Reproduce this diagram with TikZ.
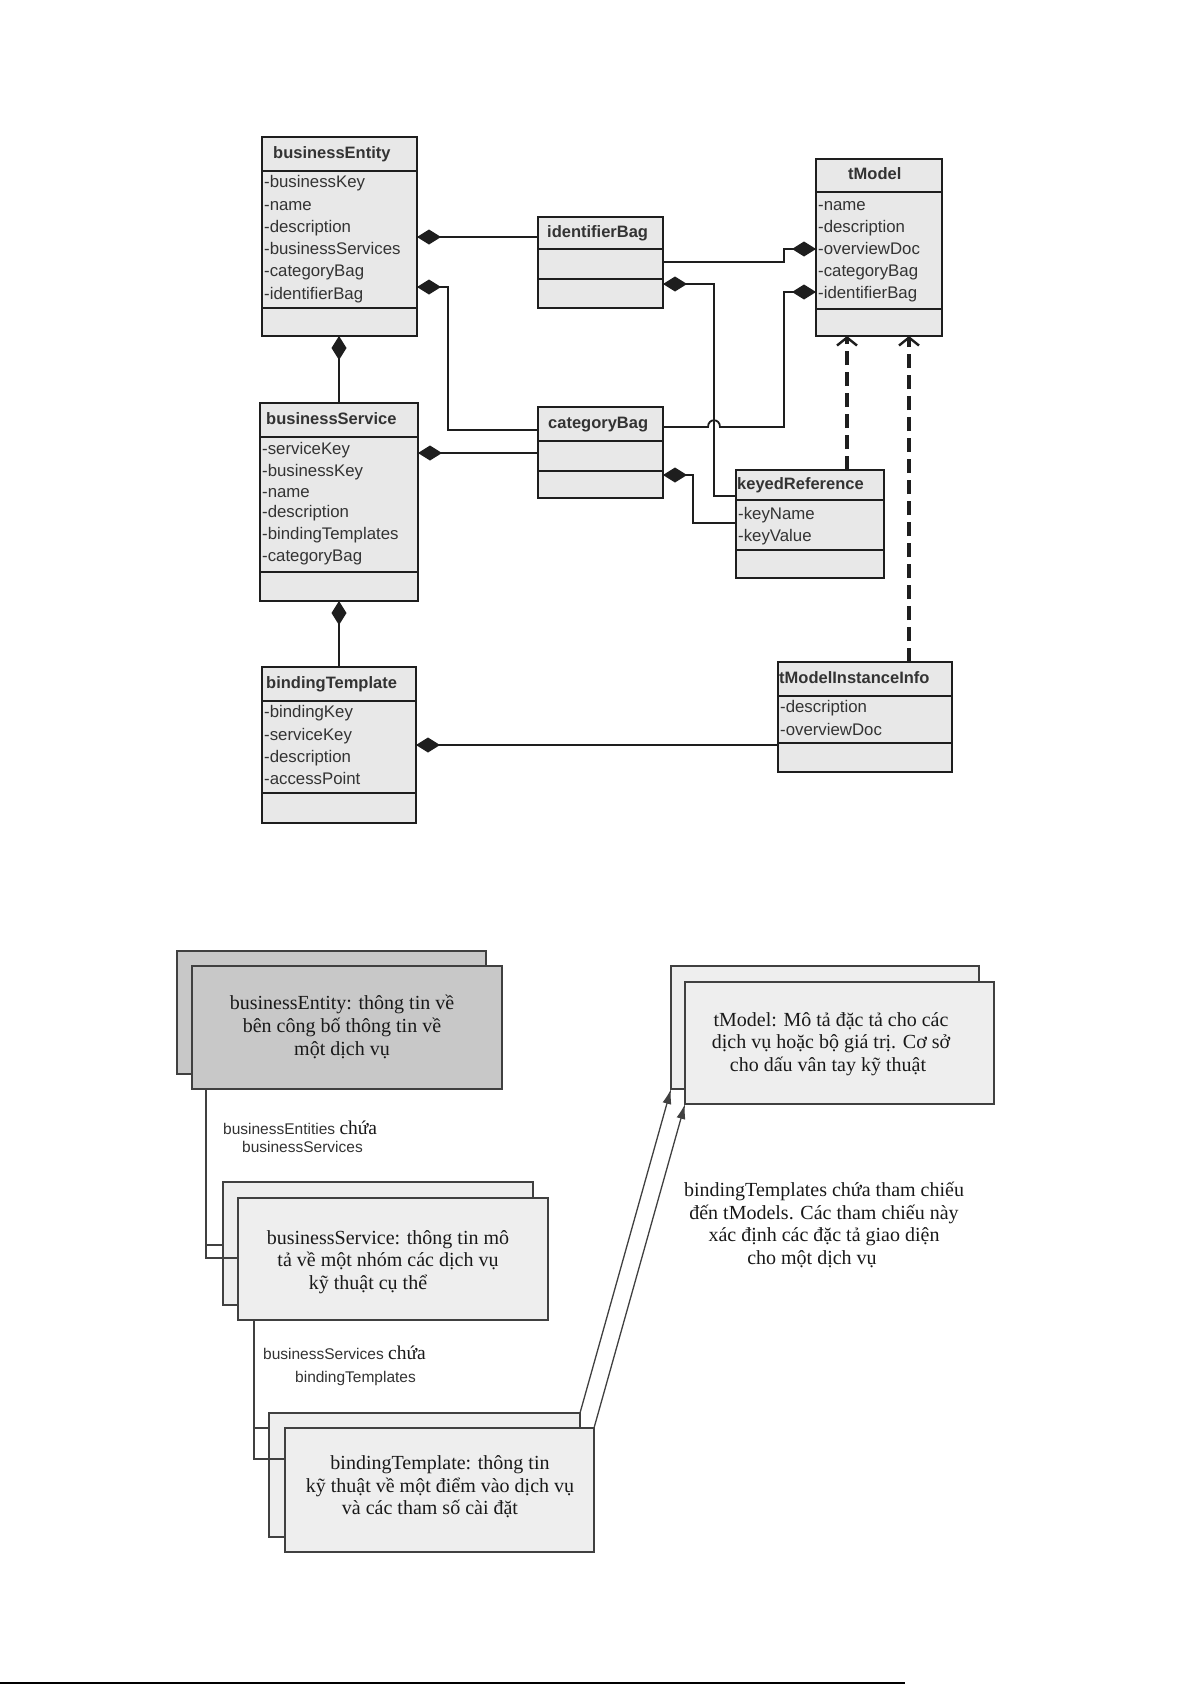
\documentclass[tikz,border=0pt]{standalone}
\usepackage{fontspec}
\setmainfont{Liberation Serif}
\setsansfont{Liberation Sans}
\usetikzlibrary{arrows.meta,fit}
\definecolor{umlfill}{HTML}{E8E8E8}
\definecolor{umldraw}{HTML}{1E1E1E}
\definecolor{umltext}{HTML}{333333}
\definecolor{darkfill}{HTML}{C8C8C8}
\definecolor{lightfill}{HTML}{EEEEEE}
\definecolor{boxline}{HTML}{404040}
\newcommand{\lblserifword}[1]{{\rmfamily\fontsize{19.5}{20}\selectfont\color{black!90}#1}}
\begin{document}
\begin{tikzpicture}[x=1pt,y=-1pt,
  umlbox/.style={draw=umldraw, fill=umlfill, line width=2.8pt, inner sep=0pt, outer sep=0pt},
  umlsep/.style={draw=umldraw, line width=2.8pt},
  umltitle/.style={font=\sffamily\bfseries\fontsize{16.5}{18}\selectfont, text=umltext, anchor=west, inner sep=0pt, text height=12pt, text depth=3.5pt},
  umlattr/.style={font=\sffamily\fontsize{16.8}{19}\selectfont, text=umltext, anchor=west, inner sep=0pt, text height=12pt, text depth=3.5pt},
  link/.style={draw=umldraw, line width=1.8pt},
  comp/.style={link, -{Diamond[length=24pt, width=15pt]}},
  dep/.style={draw=umldraw, line width=3.2pt, dash pattern=on 14pt off 7pt, -{Straight Barb[length=8pt, width=20pt, line width=2.4pt]}},
  cardback/.style={draw=boxline, line width=1.4pt, inner sep=0pt, outer sep=0pt},
  thinlink/.style={draw=boxline, line width=1.3pt},
  arrowlink/.style={thinlink, -{Latex[length=15pt, width=9pt]}},
  cardtxt/.style={font=\fontsize{20}{22.6}\selectfont, align=center, text=black!90, inner sep=0pt},
  lbl/.style={font=\sffamily\fontsize{15.5}{18}\selectfont, text=umltext, anchor=west, inner sep=0pt, text height=11pt, text depth=3pt}
]
\useasboundingbox (0,0) rectangle (1192,1684);
\fill[white] (0,0) rectangle (1192,1684);

% ---------------- UML boxes ----------------
\node[umlbox, fit={(262,137) (417,336)}] (be) {};
\draw[umlsep] (be.west |- 0,171) -- (be.east |- 0,171);
\draw[umlsep] (be.west |- 0,308) -- (be.east |- 0,308);
\node[umltitle] (beT) at (273,154) {businessEntity};
\foreach \t/\y [count=\i] in {-businessKey/183,-name/206,-description/228,-businessServices/250,-categoryBag/272,-identifierBag/295}
  \node[umlattr] (beA\i) at (264,\y) {\t};

\node[umlbox, fit={(538,217) (663,308)}] (ib) {};
\draw[umlsep] (ib.west |- 0,249) -- (ib.east |- 0,249);
\draw[umlsep] (ib.west |- 0,279) -- (ib.east |- 0,279);
\node[umltitle] (ibT) at (547,233) {identifierBag};

\node[umlbox, fit={(816,159) (942,336)}] (tm) {};
\draw[umlsep] (tm.west |- 0,192) -- (tm.east |- 0,192);
\draw[umlsep] (tm.west |- 0,309) -- (tm.east |- 0,309);
\node[umltitle] (tmT) at (848,175.5) {tModel};
\foreach \t/\y [count=\i] in {-name/206,-description/228,-overviewDoc/250,-categoryBag/272,-identifierBag/294}
  \node[umlattr] (tmA\i) at (818,\y) {\t};

\node[umlbox, fit={(260,403) (418,601)}] (bs) {};
\draw[umlsep] (bs.west |- 0,437) -- (bs.east |- 0,437);
\draw[umlsep] (bs.west |- 0,572) -- (bs.east |- 0,572);
\node[umltitle] (bsT) at (266,420) {businessService};
\foreach \t/\y [count=\i] in {-serviceKey/450,-businessKey/472,-name/493,-description/513,-bindingTemplates/535,-categoryBag/557}
  \node[umlattr] (bsA\i) at (262,\y) {\t};

\node[umlbox, fit={(538,407) (663,498)}] (cb) {};
\draw[umlsep] (cb.west |- 0,441) -- (cb.east |- 0,441);
\draw[umlsep] (cb.west |- 0,471) -- (cb.east |- 0,471);
\node[umltitle] (cbT) at (548,424) {categoryBag};

\node[umlbox, fit={(736,470) (884,578)}] (kr) {};
\draw[umlsep] (kr.west |- 0,500) -- (kr.east |- 0,500);
\draw[umlsep] (kr.west |- 0,550) -- (kr.east |- 0,550);
\node[umltitle] (krT) at (737,485) {keyedReference};
\node[umlattr] (krA1) at (738,515) {-keyName};
\node[umlattr] (krA2) at (738,537) {-keyValue};

\node[umlbox, fit={(262,667) (416,823)}] (bt) {};
\draw[umlsep] (bt.west |- 0,701) -- (bt.east |- 0,701);
\draw[umlsep] (bt.west |- 0,793) -- (bt.east |- 0,793);
\node[umltitle] (btT) at (266,684) {bindingTemplate};
\foreach \t/\y [count=\i] in {-bindingKey/713,-serviceKey/736,-description/758,-accessPoint/780}
  \node[umlattr] (btA\i) at (264,\y) {\t};

\node[umlbox, fit={(778,662) (952,772)}] (ti) {};
\draw[umlsep] (ti.west |- 0,696) -- (ti.east |- 0,696);
\draw[umlsep] (ti.west |- 0,743) -- (ti.east |- 0,743);
\node[umltitle] (tiT) at (779,679) {tModelInstanceInfo};
\node[umlattr] (tiA1) at (780,708) {-description};
\node[umlattr] (tiA2) at (780,731) {-overviewDoc};

% ---------------- UML connectors ----------------
\coordinate (k1) at (448,287);
\coordinate (k2) at (784,249);
\coordinate (k3) at (714,284);
\coordinate (k4) at (784,292);
\coordinate (k5) at (693,475);
\coordinate (h1) at (708,427);
\coordinate (h2) at (720,427);

\draw[comp] (ib.west |- 0,237) -- (be.east |- 0,237);
\draw[comp] (cb.west |- 0,430) -| (k1) -- (be.east |- 0,287);
\draw[comp] (bs.north -| 339,0) -- (be.south -| 339,0);
\draw[comp] (ib.east |- 0,262) -| (k2) -- (tm.west |- 0,249);
\draw[comp] (kr.west |- 0,496) -| (k3) -- (ib.east |- 0,284);
\draw[comp] (cb.east |- 0,427) -- (h1) .. controls (708,418) and (720,418) .. (h2) -| (k4) -- (tm.west |- 0,292);
\draw[comp] (cb.west |- 0,453) -- (bs.east |- 0,453);
\draw[comp] (kr.west |- 0,523) -| (k5) -- (cb.east |- 0,475);
\draw[comp] (bt.north -| 339,0) -- (bs.south -| 339,0);
\draw[comp] (ti.west |- 0,745) -- (bt.east |- 0,745);
\draw[dep] (kr.north -| 847,0) -- (tm.south -| 847,0);
\draw[dep] (ti.north -| 909,0) -- (tm.south -| 909,0);

% ---------------- lower diagram ----------------
\node[cardback, fill=darkfill, fit={(177,951) (486,1074)}] (beBack) {};
\node[cardback, fill=darkfill, fit={(192,966) (502,1089)}] (beFront) {};
\node[cardtxt] (beTxt) at (342,1027) {businessEntity: thông tin về\\bên công bố thông tin về\\một dịch vụ};

\node[cardback, fill=lightfill, fit={(223,1182) (533,1305)}] (bsBack) {};
\node[cardback, fill=lightfill, fit={(238,1198) (548,1320)}] (bsFront) {};
\node[cardtxt] (bsTxt) at (388,1262) {businessService: thông tin mô\\tả về một nhóm các dịch vụ\hspace*{4pt}\\kỹ thuật cụ thể\hspace*{40pt}};

\node[cardback, fill=lightfill, fit={(269,1413) (580,1537)}] (btBack) {};
\node[cardback, fill=lightfill, fit={(285,1428) (594,1552)}] (btFront) {};
\node[cardtxt] (btTxt) at (440,1487) {bindingTemplate: thông tin\\kỹ thuật về một điểm vào dịch vụ\hspace*{4pt}\\và các tham số cài đặt\hspace*{20pt}};

\node[cardback, fill=lightfill, fit={(671,966) (979,1089)}] (tmBack) {};
\node[cardback, fill=lightfill, fit={(685,982) (994,1104)}] (tmFront) {};
\node[cardtxt] (tmTxt) at (831,1044) {tModel: Mô tả đặc tả cho các\\dịch vụ hoặc bộ giá trị. Cơ sở\\cho dấu vân tay kỹ thuật\hspace*{6pt}};

\node[cardtxt] (refTxt) at (824,1225) {bindingTemplates chứa tham chiếu\\đến tModels. Các tham chiếu này\\xác định các đặc tả giao diện\hspace*{18pt}\\cho một dịch vụ\hspace*{24pt}};

\node[lbl] (l1a) at (223,1130) {businessEntities \lblserifword{chứa}};
\node[lbl] (l1b) at (242,1148) {businessServices};
\node[lbl] (l2a) at (263,1355) {businessServices \lblserifword{chứa}};
\node[lbl] (l2b) at (295,1378) {bindingTemplates};

\coordinate (j1) at (206,1245);
\coordinate (j2) at (254,1428);
\draw[thinlink] (beFront.south -| 206,0) |- (bsFront.west |- 0,1258);
\draw[thinlink] (j1) -- (bsBack.west |- j1);
\draw[thinlink] (bsFront.south -| 254,0) |- (btFront.west |- 0,1459);
\draw[thinlink] (j2) -- (btBack.west |- j2);

\draw[arrowlink] (btBack.north east) -- (tmBack.south west);
\draw[arrowlink] (btFront.north east) -- (tmFront.south west);

\coordinate (rs) at (0,1683);
\coordinate (re) at (905,1683);
\draw[line width=2pt] (rs) -- (re);
\end{tikzpicture}
\end{document}
